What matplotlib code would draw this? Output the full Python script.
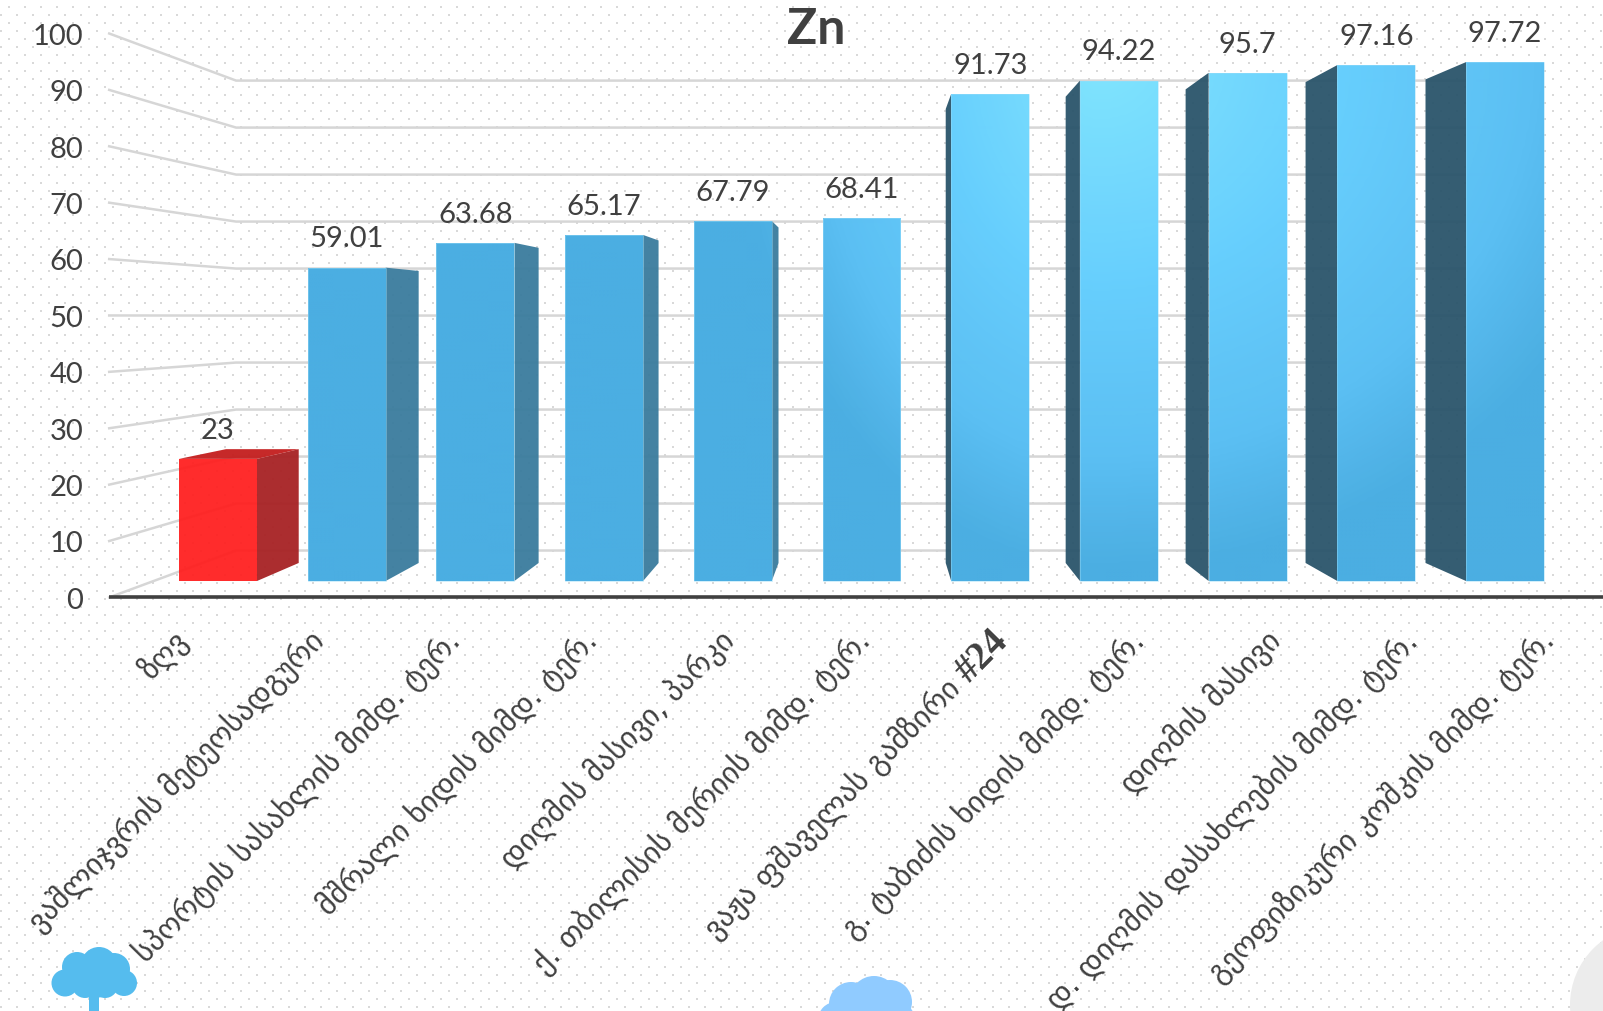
import numpy as np
import matplotlib
matplotlib.use("Agg")
import matplotlib.pyplot as plt
from matplotlib.colors import LinearSegmentedColormap, to_rgb
from matplotlib.patches import Polygon, Circle, Rectangle

# Zinc measurements per sampling site
categories = [
    "ზღვ",
    "ვაშლიჯვრის მეტეოსადგური",
    "სპორტის სასახლის მიმდ. ტერ.",
    "მშრალი ხიდის მიმდ. ტერ.",
    "დიღმის მასივი, პარკი",
    "ქ. თბილისის მერიის მიმდ. ტერ.",
    "ვაჟა ფშაველას გამზირი",
    "გ. ტაბიძის ხიდის მიმდ. ტერ.",
    "დიღმის მასივი",
    "დ. დიღმის დასახლების მიმდ. ტერ.",
    "გეოფიზიკური კოშკის მიმდ. ტერ.",
]
label_suffixes = ["", "", "", "", "", "", "#24", "", "", "", ""]
values = [23, 59.01, 63.68, 65.17, 67.79, 68.41, 91.73, 94.22, 95.7, 97.16, 97.72]
value_labels = ["23", "59.01", "63.68", "65.17", "67.79", "68.41",
                "91.73", "94.22", "95.7", "97.16", "97.72"]
y_ticks = [0, 10, 20, 30, 40, 50, 60, 70, 80, 90, 100]

W, H = 1603, 1011
TEXT = "#404040"
GEORGIAN = ["DejaVu Sans"]

fig = plt.figure(figsize=(W / 100, H / 100), dpi=100, facecolor="white")

# Dotted paper background
paper = np.ones((H, W, 3))
for row in range(H):
    phase = (row + 2) % 16
    if phase < 2:
        paper[row, [c for c in range(W) if c % 16 < 2]] = to_rgb("#D9D9D9")
    elif 8 <= phase < 10:
        paper[row, [c for c in range(W) if (c + 8) % 16 < 2]] = to_rgb("#D9D9D9")
fig.figimage(paper, 0, 0, origin="upper", zorder=-5)

# Axes over the whole figure: x in category units, y in value units on the bars' front plane
PX_X0, PX_PER_CAT = 218.0, 128.7
PX_Y0, PX_PER_VAL = 581.0, 5.31
ax = fig.add_axes([0, 0, 1, 1])
ax.patch.set_alpha(0)
ax.axis("off")
xlim = ((0 - PX_X0) / PX_PER_CAT, (W - PX_X0) / PX_PER_CAT)
ylim = ((PX_Y0 - H) / PX_PER_VAL, PX_Y0 / PX_PER_VAL)

# One-point perspective: depth factor s scales towards the vanishing point
VX, VY = 5.07, 49.9
S_FRONT, S_BAR_BACK, S_WALL = 1.062, 0.932, 0.885
X_LEFT, X_RIGHT = -0.5, 10.5


def project(x, y, s):
    return VX + s * (x - VX), VY + s * (y - VY)


# Wall and floor gridlines
for tick in y_ticks:
    p0 = project(X_LEFT, tick, S_FRONT)
    p1 = project(X_LEFT, tick, S_WALL)
    p2 = project(X_RIGHT, tick, S_WALL)
    ax.plot([p0[0], p1[0], p2[0]], [p0[1], p1[1], p2[1]], color="#D6D6D6",
            lw=1.8, zorder=1, solid_joinstyle="miter")
    ax.text(p0[0] - 0.20, p0[1] - 0.63, str(tick), ha="right", va="center",
            family="Lato", fontsize=21, color=TEXT, zorder=8)

# Baseline in front of the floor
b0 = project(X_LEFT, 0, S_FRONT)
b1 = project(X_RIGHT, 0, S_FRONT)
ax.plot([b0[0], b1[0]], [b0[1], b1[1]], color=TEXT, lw=2.6, zorder=6, solid_capstyle="butt")

BAR_W = 0.606
face_colors = ["#FF2020"] + ["#4BAEE2"] * 10
bars = ax.bar(range(len(values)), values, width=BAR_W, color=face_colors,
              edgecolor="none", alpha=0.95, zorder=4)

# Light falls on the tall bars from the upper right of the plot
px_x = np.linspace(0, W, 401)
px_y = np.linspace(0, H, 253)
gx, gy = np.meshgrid(px_x, px_y)
rx = np.where(gx < 1100, 365.0, 560.0)
shine = np.clip(1 - np.hypot((gx - 1100) / rx, (gy - 60) / 510.0), 0, 1)
ramp = LinearSegmentedColormap.from_list(
    "sky", [(0, "#4BAEE2"), (0.22, "#5CC0F4"), (0.55, "#68D0FF"), (1, "#84E8FF")])

for i, (bar, val) in enumerate(zip(bars, values)):
    left, right = i - BAR_W / 2, i + BAR_W / 2
    if i > 0:
        img = ax.imshow(ramp(shine), extent=(xlim[0], xlim[1], ylim[0], ylim[1]),
                        origin="upper", aspect="auto", alpha=0.95, zorder=4.1,
                        interpolation="bilinear")
        img.set_clip_path(bar)
        # pale rim along the face
        ax.add_patch(Rectangle((left, 0), BAR_W, val, fill=False, ec="#9ADCF8",
                               lw=0.7, alpha=0.45, zorder=4.2))

    # Side face, on whichever side of the vanishing point the bar lies
    edge = right if right < VX else left
    if left < VX < right:
        continue
    if i == 0:
        side = "#A82426"
    elif edge < VX:
        side = "#3C7D9E"
    else:
        side = "#2C566C"
    bx0, by0 = project(edge, 0, S_BAR_BACK)
    bx1, by1 = project(edge, val, S_BAR_BACK)
    ax.add_patch(Polygon([(edge, 0), (edge, val), (bx1, by1), (bx0, by0)],
                         closed=True, fc=side, ec="none", alpha=0.96, zorder=3.5))
    # Only a top below the eye level shows its upper face
    if val < VY:
        tx0, ty0 = project(left, val, S_BAR_BACK)
        ax.add_patch(Polygon([(left, val), (right, val), (bx1, by1), (tx0, ty0)],
                             closed=True, fc="#C42020", ec="none", alpha=0.96, zorder=3.6))

# Value labels
for i, (val, lab) in enumerate(zip(values, value_labels)):
    ax.annotate(lab, (i, val), xytext=(0, 20.3), textcoords="offset points",
                ha="center", va="center", family="Lato", fontsize=21,
                color=TEXT, zorder=8)

ax.set_xlim(xlim)
ax.set_ylim(ylim)

# Rotated site names, right end aligned under each bar
fig.canvas.draw()
renderer = fig.canvas.get_renderer()
ANGLE = 45.5
for i, (name, suffix) in enumerate(zip(categories, label_suffixes)):
    tx, _ = project(i, 0, S_FRONT)
    ty = (PX_Y0 - 636) / PX_PER_VAL
    tx += 5 / PX_PER_CAT
    back = 0.0
    if suffix:
        probe = ax.text(0, 0, suffix, family="Liberation Serif", weight="bold", fontsize=28)
        back = probe.get_window_extent(renderer).width + 9
        probe.remove()
        ax.text(tx, ty, suffix, rotation=ANGLE, rotation_mode="anchor", ha="right",
                va="center", family="Liberation Serif", weight="bold", fontsize=28,
                color=TEXT, zorder=8)
    dx = back * np.cos(np.radians(ANGLE)) / PX_PER_CAT
    dy = back * np.sin(np.radians(ANGLE)) / PX_PER_VAL
    ax.text(tx - dx, ty - dy, name, rotation=ANGLE, rotation_mode="anchor", ha="right",
            va="center", family=GEORGIAN, fontsize=21.8, color=TEXT, zorder=8)

# Title
ax.text((816 - PX_X0) / PX_PER_CAT, (PX_Y0 - 30) / PX_PER_VAL, "Zn", ha="center", va="center",
        family="Lato", weight="bold", fontsize=36, color=TEXT, zorder=8)

# Decorative shapes along the lower edge, positioned in figure pixels
deco = fig.add_axes([0, 0, 1, 1])
deco.patch.set_alpha(0)
deco.axis("off")
deco.set_xlim(0, W)
deco.set_ylim(H, 0)
TREE = "#55BCEE"
for cx, cy, r in [(65, 983, 13.5), (124, 983, 13), (99, 965, 18), (77, 967, 15),
                  (114, 969, 16), (85, 985, 13), (105, 985, 13), (95, 978, 20)]:
    deco.add_patch(Circle((cx, cy), r, fc=TREE, ec="none"))
deco.add_patch(Rectangle((89, 990), 10, 25, fc=TREE, ec="none"))
CLOUD = "#90CBFF"
for cx, cy, r in [(874, 1000, 24), (851, 1004, 22), (890, 1002, 22),
                  (836, 1020, 18), (897, 1020, 18)]:
    deco.add_patch(Circle((cx, cy), r, fc=CLOUD, ec="none"))
deco.add_patch(Circle((1650, 1005), 80, fc="#ECECEC", ec="none"))

fig.savefig("out.png", dpi=100)
